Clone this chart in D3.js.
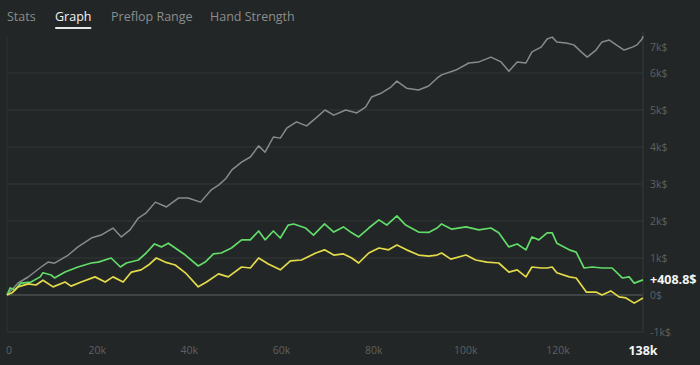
<!DOCTYPE html>
<html lang="en">
<head>
  <meta charset="UTF-8">
  <title>Graph</title>
  <style>
    body { margin: 0; background: #232626; }
    svg { display: block; }
    .tab { font-family: "Open Sans", sans-serif; font-size: 12.5px; fill: #8a8d8d; }
    .tab.active { fill: #f2f2f2; }
    .tick-label { font-family: "Open Sans", sans-serif; font-size: 10.5px; fill: #5d6161; }
    .hi-label { font-family: "Open Sans", sans-serif; font-size: 12.5px; font-weight: 700; fill: #f4f4f4; }
  </style>
  <script src="https://d3js.org/d3.v7.min.js"></script>
</head>
<body>
  <div id="chart"></div>
  <script>
    // tabs on top
    var tabs = ["Stats", "Graph", "Preflop Range", "Hand Strength"];
    var activeTab = "Graph";

    // hands played (in thousands) / result in $
    var grayX = [0, 2.4, 4.6, 7.4, 8.9, 10.3, 13.3, 15.4, 18.3, 20.4, 23, 24.8, 26.7, 28.5, 30.2, 32.2, 34.6, 37.2, 39.3, 42, 44.3, 45.9, 47.5, 48.8, 50.9, 52.8, 54.6, 56, 57.8, 59.3, 60.7, 62.8, 65, 67, 69, 70.9, 73.5, 75.9, 77.8, 79.1, 81.3, 83.3, 84.6, 86.7, 89.3, 91.5, 93.3, 94.3, 97.4, 100.2, 102.4, 105, 107.2, 108.9, 110.7, 112.6, 113.9, 115.9, 117.2, 118.3, 119.3, 121.3, 123, 124.6, 125.9, 127.8, 129.1, 130.7, 132.2, 133.9, 135.7, 136.7, 137.8, 138];
    var grayY = [0, 324, 486, 757, 890, 860, 1080, 1300, 1540, 1620, 1810, 1570, 1760, 2080, 2220, 2510, 2380, 2620, 2620, 2510, 2840, 2970, 3150, 3380, 3590, 3730, 4030, 3860, 4270, 4240, 4510, 4680, 4570, 4780, 5000, 4860, 5000, 4920, 5080, 5350, 5460, 5620, 5780, 5590, 5540, 5650, 5860, 5950, 6080, 6270, 6300, 6430, 6300, 6050, 6300, 6270, 6570, 6700, 6920, 6970, 6840, 6810, 6760, 6570, 6430, 6620, 6840, 6890, 6760, 6620, 6700, 6760, 6920, 6990];

    var greenX = [0, 0.7, 1.7, 3, 5.2, 7.2, 7.8, 9.6, 10.3, 12.6, 15.4, 18.3, 19.8, 22.6, 24.6, 25.9, 28.5, 30.2, 32, 33.5, 35, 36.5, 38.7, 41.5, 43, 44.8, 46.5, 48.7, 50.9, 52.8, 54.6, 56, 57.8, 59.3, 61, 62.2, 64.8, 66.5, 68.9, 70.9, 73, 74.8, 76.3, 78.5, 80.7, 82.4, 84.6, 86.5, 89.3, 91.5, 93.3, 94.3, 96.5, 99.6, 102.4, 105, 106.7, 108.9, 110.7, 112.6, 113.9, 115.4, 117.2, 118.3, 119.3, 122, 123.5, 125.2, 127, 129.1, 131.3, 133.5, 135, 136.1, 138];
    var greenY = [0, 190, 140, 320, 350, 490, 600, 540, 460, 620, 757, 865, 890, 1000, 757, 865, 946, 1135, 1380, 1300, 1400, 1270, 1080, 784, 890, 1110, 1135, 1270, 1490, 1490, 1730, 1490, 1730, 1540, 1890, 1920, 1810, 1620, 1920, 1700, 1840, 1680, 1570, 1810, 2030, 1890, 2140, 1890, 1700, 1690, 1810, 1920, 1780, 1840, 1760, 1810, 1680, 1300, 1380, 1220, 1570, 1490, 1680, 1680, 1400, 1220, 1160, 730, 757, 730, 730, 460, 490, 320, 408.8];

    var yellowX = [0, 1.1, 2.4, 4.6, 6.3, 7.8, 10, 12.6, 13.9, 16.1, 19.1, 21.3, 23, 25.2, 27, 29.1, 30.7, 32.4, 34.3, 36.5, 38.7, 41.5, 43.3, 45.9, 48, 50.9, 52.8, 54.6, 56.7, 59.3, 61.5, 63.9, 67, 68.9, 70.9, 73, 74.8, 76.3, 78.5, 80.7, 82.8, 84.6, 86.7, 89.3, 91.5, 93.3, 94.3, 96.3, 99.6, 101.7, 104.1, 106.7, 108.9, 110.7, 112.6, 113.9, 115.9, 117.2, 118.3, 119.3, 122, 123.5, 125.7, 127.8, 129.1, 131, 132.8, 134.3, 136.1, 138];
    var yellowY = [0, 60, 220, 300, 270, 400, 220, 350, 240, 350, 490, 350, 490, 350, 620, 680, 810, 1000, 890, 810, 600, 220, 350, 570, 490, 757, 730, 1000, 840, 680, 920, 946, 1135, 1220, 1080, 1110, 1000, 865, 1135, 1270, 1220, 1350, 1220, 1080, 1050, 1080, 1135, 970, 1080, 946, 890, 865, 620, 680, 490, 757, 730, 730, 757, 600, 490, 460, 80, 80, 0, 110, -50, -80, -220, -80];

    var yTicks = [-1000, 0, 1000, 2000, 3000, 4000, 5000, 6000, 7000];
    var xTicks = [0, 20000, 40000, 60000, 80000, 100000, 120000];
    var totalHands = 138000;

    var width = 700, height = 365;
    var plotLeft = 7, plotRight = 643, plotTop = 36, plotBottom = 332;

    var svg = d3.select("#chart").append("svg")
      .attr("width", width)
      .attr("height", height);

    // tabs
    var tabX = [7, 55, 111, 210];
    svg.selectAll(".tab")
      .data(tabs)
      .enter().append("text")
      .attr("class", function(d) { return d == activeTab ? "tab active" : "tab"; })
      .attr("x", function(d, i) { return tabX[i]; })
      .attr("y", 21)
      .text(function(d) { return d; });
    var bb = svg.select(".tab.active").node().getBBox();
    svg.append("rect")
      .attr("x", bb.x).attr("y", 27)
      .attr("width", bb.width).attr("height", 2)
      .attr("rx", 1)
      .attr("fill", "#e8e8e8");

    var x = d3.scaleLinear().domain([0, totalHands]).range([plotLeft, plotRight]);
    var y = d3.scaleLinear().domain([-1000, 7000]).range([plotBottom, plotTop]);

    // grid
    svg.selectAll(".grid")
      .data(yTicks.filter(function(d) { return d < 7000; }))
      .enter().append("line")
      .attr("x1", plotLeft).attr("x2", plotRight)
      .attr("y1", function(d) { return y(d); })
      .attr("y2", function(d) { return y(d); })
      .attr("stroke", function(d) { return d == 0 ? "#4b4f4f" : "#323636"; })
      .attr("stroke-width", function(d) { return d == 0 ? 1.5 : 1.2; });

    // frame sides
    svg.append("line")
      .attr("x1", plotLeft).attr("x2", plotLeft).attr("y1", plotTop).attr("y2", plotBottom)
      .attr("stroke", "#2c3030").attr("stroke-width", 1);
    svg.append("line")
      .attr("x1", plotRight).attr("x2", plotRight).attr("y1", plotTop - 4).attr("y2", plotBottom)
      .attr("stroke", "#343838").attr("stroke-width", 1.2);

    // y labels (top one kept inside the view)
    svg.selectAll(".ylab")
      .data(yTicks)
      .enter().append("text")
      .attr("class", "tick-label")
      .attr("x", 650)
      .attr("y", function(d) { return Math.max(y(d), 47); })
      .attr("dy", "0.35em")
      .text(function(d) { return d == 0 ? "0$" : (d / 1000) + "k$"; });

    // x labels
    svg.selectAll(".xlab")
      .data(xTicks)
      .enter().append("text")
      .attr("class", "tick-label")
      .attr("text-anchor", "middle")
      .attr("x", function(d) { return Math.max(x(d) - 2, 9); })
      .attr("y", 354)
      .text(function(d) { return d == 0 ? "0" : (d / 1000) + "k"; });

    svg.append("text")
      .attr("class", "hi-label")
      .attr("text-anchor", "middle")
      .attr("x", x(totalHands))
      .attr("y", 355)
      .text(Math.round(totalHands / 1000) + "k");

    // lines
    var line = d3.line()
      .x(function(d) { return x(d[0] * 1000); })
      .y(function(d) { return y(d[1]); });

    function pairs(xs, ys) { return xs.map(function(v, i) { return [v, ys[i]]; }); }

    var series = [
      { pts: pairs(grayX, grayY), color: "#898b8b", w: 1.5 },
      { pts: pairs(greenX, greenY), color: "#62dc68", w: 1.7 },
      { pts: pairs(yellowX, yellowY), color: "#e2da4a", w: 1.7 }
    ];
    svg.selectAll(".series")
      .data(series)
      .enter().append("path")
      .attr("fill", "none")
      .attr("stroke", function(d) { return d.color; })
      .attr("stroke-width", function(d) { return d.w; })
      .attr("stroke-linejoin", "round")
      .attr("d", function(d) { return line(d.pts); });

    // final result label
    var last = greenY[greenY.length - 1];
    svg.append("text")
      .attr("class", "hi-label")
      .attr("x", 650)
      .attr("y", y(last))
      .attr("dy", "0.35em")
      .text("+" + last.toFixed(1) + "$");
  </script>
</body>
</html>
